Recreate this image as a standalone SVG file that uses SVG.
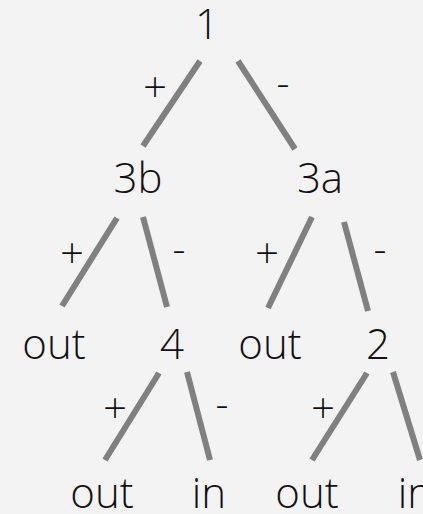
<svg xmlns="http://www.w3.org/2000/svg" width="423" height="514" viewBox="0 0 423 514">
<style>
.n,.l{font-family:"Open Sans Light","Open Sans","Liberation Sans",sans-serif;font-weight:300;font-size:42px;fill:#111;text-anchor:middle}
.e{stroke:#808080;stroke-width:6;fill:none}
</style>
<rect width="423" height="514" fill="#f3f3f3"/>
<g id="connectors">
<line class="e" x1="200" y1="61" x2="143" y2="146"/>
<line class="e" x1="238" y1="61" x2="295" y2="149"/>
<line class="e" x1="117" y1="218" x2="62" y2="306"/>
<line class="e" x1="143" y1="217" x2="167" y2="307"/>
<line class="e" x1="312" y1="217" x2="268" y2="308"/>
<line class="e" x1="344" y1="222" x2="368" y2="311"/>
<line class="e" x1="159" y1="373" x2="105" y2="460"/>
<line class="e" x1="187" y1="372" x2="210" y2="460"/>
<line class="e" x1="367" y1="373" x2="312" y2="460"/>
<line class="e" x1="393" y1="372" x2="420" y2="460"/>
<text class="l" x="155" y="102">+</text>
<text class="l" x="283" y="98">-</text>
<text class="l" x="72" y="268">+</text>
<text class="l" x="179" y="264">-</text>
<text class="l" x="267" y="268">+</text>
<text class="l" x="380" y="264">-</text>
<text class="l" x="115" y="423">+</text>
<text class="l" x="222" y="419">-</text>
<text class="l" x="323" y="423">+</text>
</g>
<g id="n1"><text class="n" x="207" y="39">1</text></g>
<g id="n3b"><text class="n" x="138" y="193">3b</text></g>
<g id="n3a"><text class="n" x="320" y="193">3a</text></g>
<g id="out1"><text class="n" x="54" y="359">out</text></g>
<g id="n4"><text class="n" x="172" y="359">4</text></g>
<g id="out2"><text class="n" x="270" y="359">out</text></g>
<g id="n2"><text class="n" x="378" y="359">2</text></g>
<g id="out3"><text class="n" x="102" y="508">out</text></g>
<g id="in1"><text class="n" x="209" y="508">in</text></g>
<g id="out4"><text class="n" x="307" y="508">out</text></g>
<g id="in2"><text class="n" x="415" y="508">in</text></g>
</svg>
